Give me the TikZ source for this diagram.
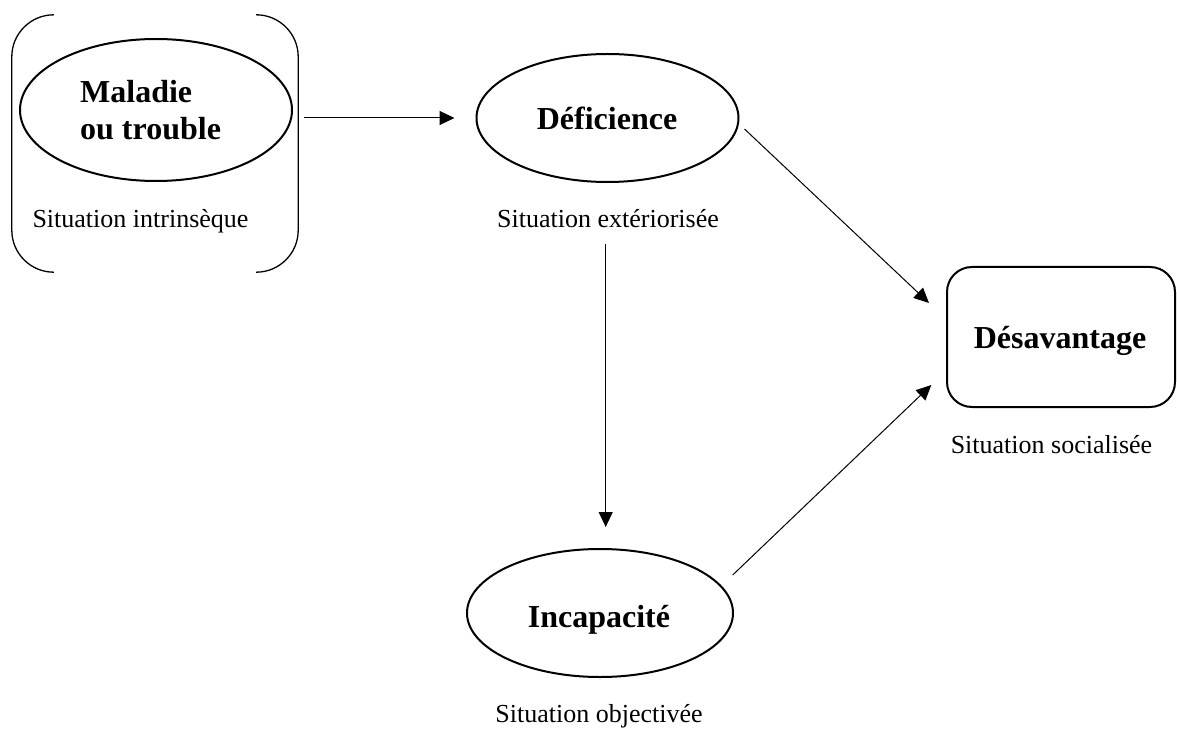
\documentclass[tikz,border=0pt]{standalone}
\usepackage{fontspec}
\setmainfont{Liberation Serif}
\usetikzlibrary{shapes.geometric,arrows.meta,calc}
\tikzset{
  ovalbox/.style={draw, ellipse, line width=2bp, inner sep=0pt},
  roundbox/.style={draw, rectangle, rounded corners=25bp, line width=2bp, inner sep=0pt},
  ghostbox/.style={rectangle, inner sep=0pt},
  bigtxt/.style={inner sep=0pt, font=\fontsize{32bp}{37bp}\selectfont\bfseries},
  smalltxt/.style={inner sep=0pt, anchor=base, font=\fontsize{26bp}{30bp}\selectfont},
  arr/.style={line width=1bp, -{Triangle[length=15bp,width=14bp]}},
  brack/.style={line width=1.3bp, rounded corners=42bp}
}
\begin{document}
\begin{tikzpicture}[x=1bp,y=-1bp]
\useasboundingbox (0,0) rectangle (1177,729);
% bracket frame around "Maladie ou trouble"
\node[ghostbox, minimum width=286bp, minimum height=257bp] (brk) at (155,143.5) {};
\draw[brack] ($(brk.north west)+(42,0)$) -- (brk.north west) -- (brk.south west) -- ($(brk.south west)+(42,0)$);
\draw[brack] ($(brk.north east)+(-42,0)$) -- (brk.north east) -- (brk.south east) -- ($(brk.south east)+(-42,0)$);
% nodes
\node[ovalbox, minimum width=272bp, minimum height=142bp] (mal) at (156,110) {};
\node[bigtxt, anchor=base west] (mal1) at (80,103) {Maladie};
\node[bigtxt, anchor=base west] (mal2) at (80,140) {ou trouble};
\node[smalltxt] (sit1) at (140.5,228) {Situation intrinsèque};

\node[ovalbox, minimum width=262bp, minimum height=128bp] (def) at (607.5,118) {};
\node[bigtxt, anchor=base] (deft) at (607,130) {Déficience};
\node[smalltxt] (sit2) at (608,227.5) {Situation extériorisée};

\node[ovalbox, minimum width=266bp, minimum height=128bp] (inc) at (600,613) {};
\node[bigtxt, anchor=base] (inct) at (599,627) {Incapacité};
\node[smalltxt] (sit3) at (599,722.5) {Situation objectivée};

\node[roundbox, minimum width=228bp, minimum height=140bp] (des) at (1061,337) {};
\node[bigtxt, anchor=base] (dest) at (1060,348) {Désavantage};
\node[smalltxt] (sit4) at (1051.5,453.5) {Situation socialisée};

% connectors
\draw[arr] ([xshift=6bp]brk.east |- def.west) -- ([xshift=-21bp]def.west);
\draw[arr] ($(def.south)+(-1.8,61)$) -- ($(inc.north)+(5.7,-21)$);
\draw[arr] ($(def.east)+(5,11)$) -- ($(des.west)+(-17,-34)$);
\draw[arr] ($(inc.east)+(-1.3,-38)$) -- ($(des.west)+(-14.7,48)$);
\end{tikzpicture}
\end{document}
